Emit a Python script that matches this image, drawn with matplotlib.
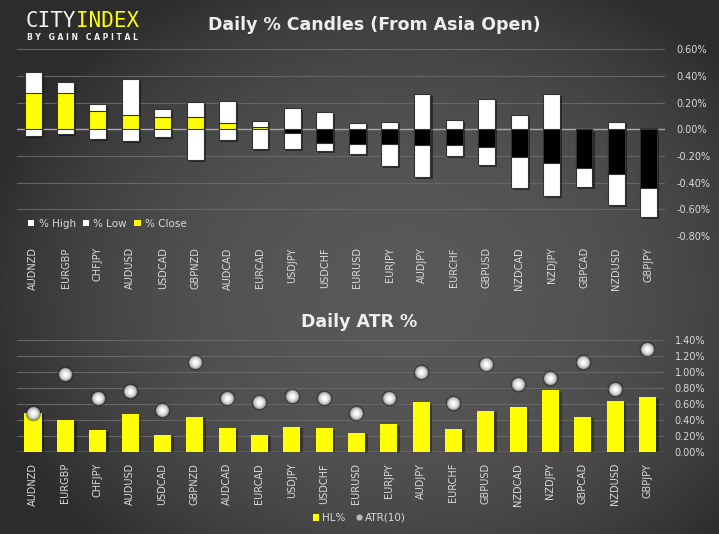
import numpy as np
import matplotlib
matplotlib.use('Agg')
import matplotlib.pyplot as plt
import matplotlib.patheffects as pe
from matplotlib.lines import Line2D
from matplotlib.patches import Patch

# Données
pairs = ['AUDNZD', 'EURGBP', 'CHFJPY', 'AUDUSD', 'USDCAD', 'GBPNZD', 'AUDCAD',
         'EURCAD', 'USDJPY', 'USDCHF', 'EURUSD', 'EURJPY', 'AUDJPY', 'EURCHF',
         'GBPUSD', 'NZDCAD', 'NZDJPY', 'GBPCAD', 'NZDUSD', 'GBPJPY']
pct_high = [0.43, 0.355, 0.19, 0.375, 0.15, 0.205, 0.21, 0.065, 0.16, 0.13,
            0.05, 0.055, 0.265, 0.07, 0.225, 0.11, 0.265, 0.0, 0.055, 0.01]
pct_low = [-0.05, -0.035, -0.075, -0.09, -0.06, -0.23, -0.08, -0.145, -0.15, -0.165,
           -0.185, -0.275, -0.36, -0.2, -0.27, -0.44, -0.5, -0.435, -0.565, -0.655]
pct_close = [0.275, 0.27, 0.135, 0.11, 0.095, 0.09, 0.05, 0.02, -0.03, -0.1,
             -0.11, -0.11, -0.115, -0.12, -0.135, -0.21, -0.255, -0.29, -0.335, -0.44]
hl_pct = [0.485, 0.40, 0.27, 0.47, 0.21, 0.435, 0.295, 0.21, 0.31, 0.295,
          0.235, 0.345, 0.62, 0.285, 0.51, 0.56, 0.77, 0.435, 0.635, 0.685]
atr10 = [0.49, 0.97, 0.67, 0.76, 0.53, 1.13, 0.67, 0.62, 0.70, 0.67,
         0.49, 0.68, 1.0, 0.61, 1.10, 0.85, 0.93, 1.13, 0.79, 1.29]

candle_ticks = [0.6, 0.4, 0.2, 0.0, -0.2, -0.4, -0.6, -0.8]
atr_ticks = [0.0, 0.2, 0.4, 0.6, 0.8, 1.0, 1.2, 1.4]

TXT = '#d9d9d9'
GRID = '#666666'
YELLOW = '#ffff00'

fig = plt.figure(figsize=(7.19, 5.34), dpi=100)

# fond dégradé (plus clair au centre)
bg = fig.add_axes([0, 0, 1, 1], zorder=-10)
yy, xx = np.mgrid[0:1:300j, 0:1:400j]
d = np.sqrt((xx - 0.56) ** 2 + ((yy - 0.55) / 1.1) ** 2)
v = 0.345 - 0.17 * np.clip(d / 0.6, 0, 1) ** 2.3
bg.imshow(np.dstack([v, v, v]), extent=[0, 1, 0, 1], aspect='auto', origin='upper')
bg.axis('off')

shadow = [pe.SimplePatchShadow(offset=(1.5, -1.5), shadow_rgbFace='black', alpha=0.45), pe.Normal()]

x = np.arange(len(pairs))


def style_axes(ax, ticks):
    ax.set_facecolor('none')
    for s in ax.spines.values():
        s.set_visible(False)
    ax.set_xlim(-0.5, len(pairs) - 0.5)
    ax.set_yticks(ticks)
    ax.yaxis.tick_right()
    ax.set_yticklabels([f'{t:.2f}%' for t in ticks], color=TXT, fontsize=7, ha='left')
    ax.tick_params(axis='y', length=0, pad=8)
    ax.set_xticks(x)
    ax.set_xticklabels(pairs, rotation=90, color=TXT, fontsize=7)
    ax.tick_params(axis='x', length=0, pad=8)
    ax.grid(axis='y', color=GRID, linewidth=0.8)
    ax.set_axisbelow(True)


# --- Candles ---
ax1 = fig.add_axes([0.0235, 0.558, 0.9015, 0.350])
style_axes(ax1, candle_ticks)
ax1.set_ylim(-0.8, 0.6)
ax1.axhline(0, color='#a6a6a6', linewidth=1, zorder=1)

hi = np.array(pct_high)
lo = np.array(pct_low)
cl = np.array(pct_close)
bars = ax1.bar(x, hi - lo, bottom=lo, width=0.52, color='white', edgecolor='#333333',
               linewidth=0.8, zorder=2)
for b in bars:
    b.set_path_effects(shadow)
close_cols = [YELLOW if c > 0 else 'black' for c in cl]
ax1.bar(x, cl, width=0.52, color=close_cols, edgecolor='#333333', linewidth=0.8, zorder=3)

h1 = [Patch(facecolor='white', edgecolor='none'),
      Patch(facecolor='white', edgecolor='none'),
      Patch(facecolor=YELLOW, edgecolor='none')]
ax1.legend(h1, ['% High', '% Low', '% Close'], loc='lower left',
           bbox_to_anchor=(0.003, -0.01), ncol=3, frameon=False, fontsize=7.5,
           handlelength=0.6, handleheight=0.6, handletextpad=0.4,
           columnspacing=0.7, labelcolor=TXT)

# --- ATR ---
ax2 = fig.add_axes([0.0235, 0.154, 0.8995, 0.209])
style_axes(ax2, atr_ticks)
ax2.set_ylim(0, 1.4)
ax2.axhline(0, color='#9a9a9a', linewidth=1, zorder=1)
bars2 = ax2.bar(x, hl_pct, width=0.53, color=YELLOW, zorder=2)
for b in bars2:
    b.set_path_effects([pe.SimplePatchShadow(offset=(2, -1), shadow_rgbFace='black', alpha=0.35), pe.Normal()])

# billes ATR
ax2.scatter(x, atr10, s=130, color='black', alpha=0.35, zorder=3, linewidths=0)
ax2.scatter(x, atr10, s=95, color='#8c8c8c', zorder=4, linewidths=0)
ax2.scatter(x, atr10, s=70, color='#c4c4c4', zorder=5, linewidths=0)
ax2.scatter(x, atr10, s=38, color='#e6e6e6', zorder=6, linewidths=0)
ax2.scatter(x, atr10, s=10, color='white', zorder=7, linewidths=0)

h2 = [Patch(facecolor=YELLOW, edgecolor='none'),
      Line2D([], [], marker='o', linestyle='none', markersize=4.5,
             markerfacecolor='#bdbdbd', markeredgecolor='#777777', markeredgewidth=0.5)]
fig.legend(h2, ['HL%', 'ATR(10)'], loc='center', bbox_to_anchor=(0.5, 0.03),
           ncol=2, frameon=False, fontsize=7.5, handlelength=0.6, handleheight=0.7,
           handletextpad=0.3, columnspacing=1.0, labelcolor=TXT)

# titres
fig.text(0.52, 0.953, 'Daily % Candles (From Asia Open)', ha='center', va='center',
         fontsize=12.5, fontweight='bold', color='#eeeeee')
fig.text(0.500, 0.397, 'Daily ATR %', ha='center', va='center',
         fontsize=12.5, fontweight='bold', color='#eeeeee')

# logo
fig.text(26 / 719, 1 - 21 / 534, 'CITY', ha='left', va='center', fontsize=15,
         family='DejaVu Sans Mono', color='#f2f2f2')
fig.text(76.5 / 719, 1 - 21 / 534, 'INDEX', ha='left', va='center', fontsize=15,
         family='DejaVu Sans Mono', color=YELLOW)
fig.text(27 / 719, 1 - 38 / 534, 'B Y   G A I N   C A P I T A L', ha='left', va='center',
         fontsize=5.5, fontweight='bold', color='#f2f2f2')

fig.savefig('out.png', dpi=100)
